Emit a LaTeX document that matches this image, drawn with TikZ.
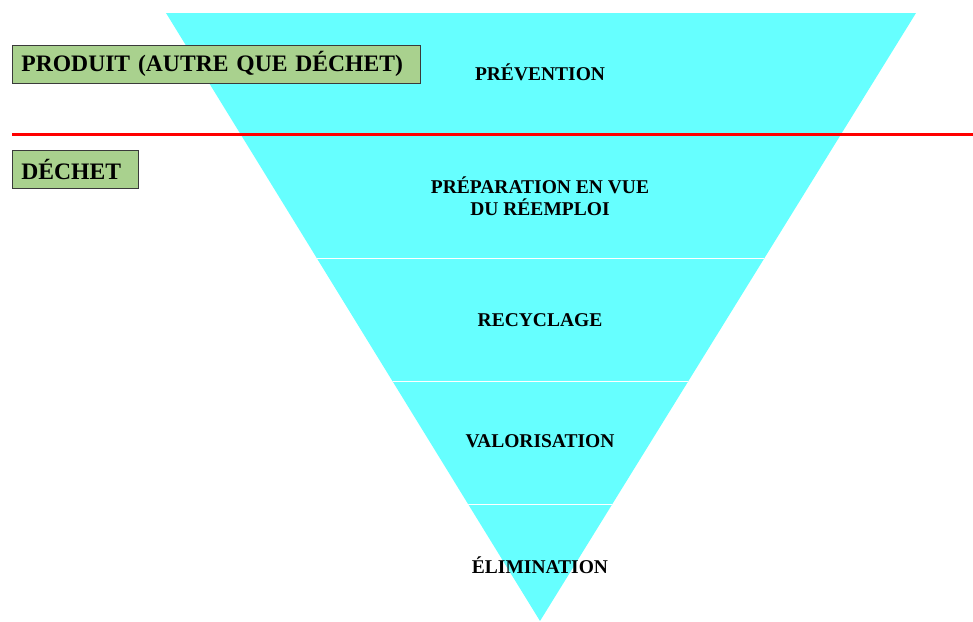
\documentclass[tikz,border=0pt]{standalone}
\usepackage{fontspec}
\setmainfont{Liberation Serif}
\definecolor{cyanfill}{HTML}{66FFFF}
\definecolor{boxgreen}{HTML}{A9D18E}
\definecolor{boxline}{HTML}{3A3A3A}
\begin{document}
\begin{tikzpicture}[x=1pt,y=-1pt,
	level/.style={font=\fontsize{19.5}{22.5}\selectfont\bfseries,align=center},
	status/.style={draw=boxline,line width=0.8pt,fill=boxgreen,anchor=west,inner xsep=9pt,align=left,
		minimum height=38pt,font=\fontsize{23.6}{28}\selectfont\bfseries}]
	\useasboundingbox (0,0) rectangle (973,621);
	\coordinate (tl) at (166,13);
	\coordinate (tr) at (916,13);
	\coordinate (apex) at (540,621);
	\fill[cyanfill] (tl) -- (tr) -- (apex) -- cycle;
	\begin{scope}
		\clip (tl) -- (tr) -- (apex) -- cycle;
		\draw[white,line width=1pt] (0,258) -- (973,258);
		\draw[white,line width=1pt] (0,381) -- (973,381);
		\draw[white,line width=1pt] (0,504) -- (973,504);
	\end{scope}
	\coordinate (sepl) at (12,134);
	\coordinate (sepr) at (973,134);
	\draw[red,line width=3pt] (sepl) -- (sepr);
	\node[status,minimum width=408pt,text width=390pt] (produit) at (12,64) {PRODUIT (AUTRE QUE DÉCHET)};
	\node[status,minimum width=126pt,text width=108pt] (dechet) at (12,169.5) {DÉCHET};
	\node[level] (prevention) at (540,72) {PRÉVENTION};
	\node[level] (reemploi) at (540,196) {PRÉPARATION EN VUE\\DU RÉEMPLOI};
	\node[level] (recyclage) at (540,320) {RECYCLAGE};
	\node[level] (valorisation) at (540,441) {VALORISATION};
	\node[level] (elimination) at (540,565) {ÉLIMINATION};
\end{tikzpicture}
\end{document}
